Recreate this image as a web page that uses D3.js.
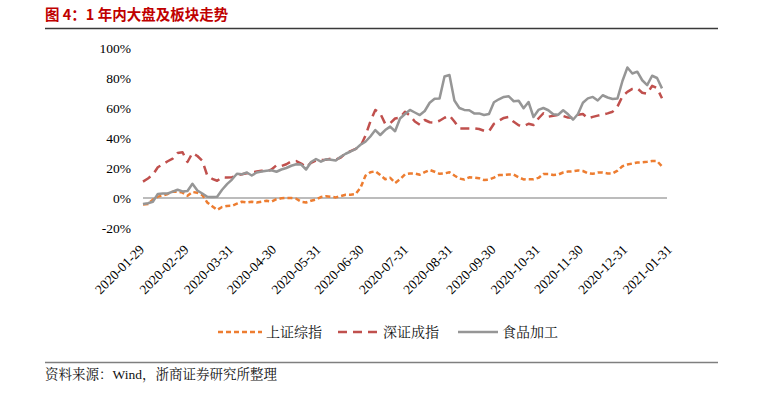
<!DOCTYPE html>
<html>
<head>
<meta charset="utf-8">
<script src="https://cdn.jsdelivr.net/npm/d3@7"></script>
<style>
  body { margin: 0; background: #fff; }
  svg { display: block; }
</style>
</head>
<body>
<svg id="vis"></svg>
<script>
// evenly spaced samples between these two dates
const START_DATE = '2020-01-26';
const END_DATE = '2021-01-22';
const SERIF = 'Liberation Serif';
const SONG = '"Liberation Serif", "Noto Serif CJK SC", serif';
const HEI = '"Noto Sans CJK SC", sans-serif';

const seriesNames = ['上证综指', '深证成指', '食品加工'];

const shanghai = [
  -4.4, -4, -1.1, 0.9, 1.6, 2.7, 4.2, 4.2, 3.6, 1.5,
  4, 3.5, 2, -3, -5.5, -8, -6, -5.3, -5.2, -3.8,
  -2.5, -3, -2.5, -3, -2.4, -1.8, -2.4, -0.8, -0.2, 0,
  0, -0.5, -2.5, -3, -1.8, -1, 0.6, 1.2, 0.8, 0.4,
  1.3, 2.2, 2.2, 2.6, 6.8, 14.8, 17.2, 17.8, 15.3, 12.5,
  13.5, 10, 12.5, 15.8, 16.4, 16.4, 15.5, 17.2, 18.7, 17.5,
  16.1, 16.4, 17.2, 15, 13, 12.3, 13.8, 13.6, 13.2, 12,
  12.3, 13.6, 15.3, 15.3, 15.7, 15.6, 13.8, 12.4, 12.5, 12.5,
  13.4, 16, 16, 15.3, 15.6, 17, 17.6, 17.8, 18.4, 18,
  16.5, 16.1, 17, 17, 16.4, 16.4, 18.3, 21.2, 22.3, 23,
  23.7, 23.8, 24.1, 24.6, 24.6, 21
];

const shenzhen = [
  10.9, 13, 15.5, 20.5, 22.5, 24.5, 26.3, 30, 30.5, 24,
  30, 28, 24.8, 15, 12.8, 11.5, 13.8, 13.6, 13.9, 15,
  15.8, 16.5, 17, 17.6, 18.2, 17.6, 19, 21.8, 21.3, 22.5,
  24.4, 24.6, 23, 20.5, 23.5, 25, 25.3, 25.5, 26.3, 25.5,
  27, 29.8, 31.3, 32.7, 34.5, 41.5, 51, 58.7, 56.4, 49.5,
  49.8, 53, 53.5, 57.5, 55, 51, 48.8, 52, 50.5, 50.3,
  51.5, 53.5, 55, 51, 46.4, 46.4, 46.4, 46.4, 46, 44.8,
  44.5, 49.5, 51.5, 53.4, 54, 50.8, 48.5, 47.8, 49.5, 48.7,
  53, 56.5, 54.2, 54.8, 55.3, 54.7, 53.6, 53.4, 55.5, 56,
  53.2, 54.1, 54.9, 55.6, 56.4, 57.5, 61, 67.8, 70.8, 72.7,
  73.1, 70.2, 69.5, 74.8, 73.2, 66.5
];

const food = [
  -4, -3.5, -2.5, 2.7, 3, 3, 4.2, 5.5, 4.4, 4.7,
  9.5, 5, 3, 0.8, 0.6, 0.8, 5.5, 9.2, 12.3, 16.2,
  15.8, 17, 15, 17, 17.6, 18.2, 18.5, 17.5, 19, 20,
  21.5, 22.5, 22.3, 19, 24, 26, 24.2, 25.8, 25.5, 25,
  27.5, 29.5, 31, 32.6, 35.5, 37.5, 41, 45.3, 42, 45.3,
  47.6, 44.5, 53, 56, 58.7, 57, 55.3, 58, 63.5, 66.2,
  66.4, 81, 82, 65, 60, 58.7, 58.5, 56.4, 56.4, 55.3,
  56, 63.8, 65.8, 67.4, 67.8, 64.5, 64.8, 59.8, 64, 54,
  58.7, 60, 58.5, 55.8, 55.5, 58.5, 55.8, 52.2, 56, 63.5,
  66.4, 67.4, 65, 68.5, 67, 66, 66.4, 78, 87, 83,
  84.2, 78.5, 75.3, 81.5, 80, 73.1
];

const yTicks = [-20, 0, 20, 40, 60, 80, 100];
const xTickLabels = ['2020-01-29', '2020-02-29', '2020-03-31', '2020-04-30', '2020-05-31',
  '2020-06-30', '2020-07-31', '2020-08-31', '2020-09-30', '2020-10-31',
  '2020-11-30', '2020-12-31', '2021-01-31'];

const width = 763, height = 393;
const svg = d3.select('#vis').attr('width', width).attr('height', height);

const parse = d3.timeParse('%Y-%m-%d');
const start = parse(START_DATE), end = parse(END_DATE);
const dates = food.map((d, i) => new Date(+start + (end - start) * i / (food.length - 1)));

const x = d3.scaleTime().domain([start, end]).range([143, 662]);
const y = d3.scaleLinear().domain([-20, 100]).range([228, 48]);

// title, rules, source
svg.append('text').attr('x', 45).attr('y', 20)
  .attr('fill', '#C00000').attr('font-weight', 'bold').attr('font-size', 14.5)
  .attr('font-family', HEI)
  .text('图 4：1 年内大盘及板块走势');
svg.append('line').attr('x1', 45).attr('x2', 718).attr('y1', 28.5).attr('y2', 28.5)
  .attr('stroke', '#3a3a3a').attr('stroke-width', 1.5);
svg.append('line').attr('x1', 45).attr('x2', 718).attr('y1', 362.5).attr('y2', 362.5)
  .attr('stroke', '#7f7f7f').attr('stroke-width', 1.5);
svg.append('text').attr('font-family', SONG).attr('x', 45).attr('y', 379)
  .attr('font-size', 13.5).attr('fill', '#111')
  .text('资料来源：Wind，浙商证券研究所整理');

// y axis labels
const yAxis = svg.append('g').attr('transform', 'translate(131,0)')
  .call(d3.axisLeft(y).tickValues(yTicks).tickSize(0).tickPadding(0).tickFormat(d => d + '%'));
yAxis.select('.domain').remove();
yAxis.selectAll('text')
  .attr('font-family', SERIF).attr('font-size', 13.5).attr('fill', '#000');

// x axis labels, rotated
const xAxis = svg.append('g').attr('transform', 'translate(0,247)')
  .call(d3.axisBottom(x).tickValues(xTickLabels.map(parse)).tickSize(0).tickFormat(d3.timeFormat('%Y-%m-%d')));
xAxis.select('.domain').remove();
xAxis.selectAll('text')
  .attr('font-family', SERIF).attr('font-size', 13.5).attr('fill', '#000')
  .attr('text-anchor', 'end').attr('x', 0).attr('y', 0).attr('dy', '0.35em')
  .attr('transform', 'translate(-6,0) rotate(-45)');

// zero line
svg.append('line').attr('x1', x.range()[0]).attr('x2', x.range()[1] + 5)
  .attr('y1', y(0)).attr('y2', y(0)).attr('stroke', '#a6a6a6').attr('stroke-width', 1.5);

const styles = [
  { data: shanghai, color: '#ED7D31', dash: '5,3' },
  { data: shenzhen, color: '#C0504D', dash: '9,6' },
  { data: food, color: '#969696', dash: null }
];

const line = d3.line().x((d, i) => x(dates[i])).y(d => y(d));

styles.forEach(s => {
  svg.append('path').datum(s.data)
    .attr('d', line).attr('fill', 'none')
    .attr('stroke', s.color).attr('stroke-width', 2.5)
    .attr('stroke-linejoin', 'round')
    .attr('stroke-dasharray', s.dash);
});

// legend
const legendItems = [
  { x1: 218, x2: 262, tx: 266 },
  { x1: 338, x2: 381, tx: 383 },
  { x1: 458, x2: 498, tx: 502 }
];
const legend = svg.append('g');
legendItems.forEach((l, i) => {
  legend.append('line').attr('x1', l.x1).attr('x2', l.x2).attr('y1', 332).attr('y2', 332)
    .attr('stroke', styles[i].color).attr('stroke-width', 2.5)
    .attr('stroke-dasharray', styles[i].dash);
  legend.append('text').attr('font-family', SONG).attr('x', l.tx).attr('y', 332)
    .attr('dy', '0.35em').attr('font-size', 14).attr('fill', '#111')
    .text(seriesNames[i]);
});
</script>
</body>
</html>
